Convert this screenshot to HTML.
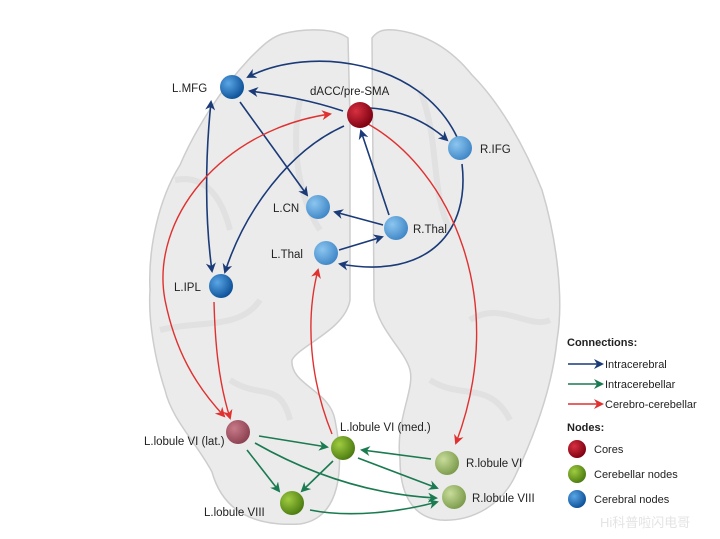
<!DOCTYPE html>
<html><head><meta charset="utf-8"><style>
html,body{margin:0;padding:0;background:#fff;}
svg{display:block;}
text{font-family:"Liberation Sans",sans-serif;}
</style></head><body>
<svg width="720" height="539" viewBox="0 0 720 539" xmlns="http://www.w3.org/2000/svg">
<defs>
<radialGradient id="gb" cx="35%" cy="35%" r="70%"><stop offset="0" stop-color="#5aa6e6"/><stop offset="1" stop-color="#0b4f96"/></radialGradient>
<radialGradient id="gl" cx="35%" cy="35%" r="70%"><stop offset="0" stop-color="#8cc6f0"/><stop offset="1" stop-color="#3f86c6"/></radialGradient>
<radialGradient id="gr" cx="35%" cy="35%" r="70%"><stop offset="0" stop-color="#d83040"/><stop offset="1" stop-color="#7a0010"/></radialGradient>
<radialGradient id="gp" cx="35%" cy="35%" r="70%"><stop offset="0" stop-color="#c87a88"/><stop offset="1" stop-color="#8a4050"/></radialGradient>
<radialGradient id="gg" cx="35%" cy="35%" r="70%"><stop offset="0" stop-color="#a0cc40"/><stop offset="1" stop-color="#4a7a10"/></radialGradient>
<radialGradient id="gg2" cx="35%" cy="35%" r="70%"><stop offset="0" stop-color="#c8dc9a"/><stop offset="1" stop-color="#7a9a4a"/></radialGradient>
<marker id="ab" markerWidth="10" markerHeight="10" refX="8" refY="5" orient="auto" markerUnits="userSpaceOnUse"><path d="M0,0 L10,5 L0,10 L3,5 z" fill="#1a3a78"/></marker>
<marker id="abs" markerWidth="10" markerHeight="10" refX="2" refY="5" orient="auto" markerUnits="userSpaceOnUse"><path d="M10,0 L0,5 L10,10 L7,5 z" fill="#1a3a78"/></marker>
<marker id="ar" markerWidth="10" markerHeight="10" refX="8" refY="5" orient="auto" markerUnits="userSpaceOnUse"><path d="M0,0 L10,5 L0,10 L3,5 z" fill="#e03030"/></marker>
<marker id="ars" markerWidth="10" markerHeight="10" refX="2" refY="5" orient="auto" markerUnits="userSpaceOnUse"><path d="M10,0 L0,5 L10,10 L7,5 z" fill="#e03030"/></marker>
<marker id="ag" markerWidth="10" markerHeight="10" refX="8" refY="5" orient="auto" markerUnits="userSpaceOnUse"><path d="M0,0 L10,5 L0,10 L3,5 z" fill="#1a7a50"/></marker>
</defs>
<path d="M282,34 C305,28 335,28 348,38 L350,120 L350,300 C345,330 300,345 292,360 C290,385 330,390 335,420 C345,470 340,518 300,524 C250,527 222,508 212,472 C196,442 172,420 165,390 C155,360 148,320 150,290 C148,250 158,200 180,165 C195,130 220,90 250,58 C262,46 270,38 282,34 Z" fill="#ebebeb" stroke="#cdcdcd" stroke-width="1.5"/>
<path d="M395,30 C420,33 448,45 472,75 C497,100 522,140 542,190 C557,240 564,300 557,340 C552,390 532,440 517,472 C502,507 470,522 440,520 C410,517 400,490 400,460 C395,420 415,390 410,370 C405,350 378,330 374,300 L372,38 C378,30 385,29 395,30 Z" fill="#ebebeb" stroke="#cdcdcd" stroke-width="1.5"/>
<path d="M175,180 C200,175 220,190 230,230 M160,330 C200,320 240,330 260,300 M300,100 C290,150 300,200 320,230 M420,90 C440,140 430,190 450,230 M470,320 C500,300 530,330 550,320 M230,380 C260,400 280,380 290,420 M430,380 C460,400 490,380 510,420" fill="none" stroke="#dadada" stroke-width="6" opacity="0.6"/>
<g fill="none" stroke="#1a3a78" stroke-width="1.6">
<path d="M457,137 C420,60 310,45 248,77" marker-end="url(#ab)"/>
<path d="M343,111 C310,100 280,95 250,91" marker-end="url(#ab)"/>
<path d="M370,108 C400,110 425,120 447,140" marker-end="url(#ab)"/>
<path d="M240,102 L307,195" marker-end="url(#ab)"/>
<path d="M211,102 C205,160 205,220 212,271" marker-start="url(#abs)" marker-end="url(#ab)"/>
<path d="M344,126 C290,150 245,210 225,272" marker-end="url(#ab)"/>
<path d="M383,225 L335,212" marker-end="url(#ab)"/>
<path d="M389,215 L361,131" marker-end="url(#ab)"/>
<path d="M339,250 L382,237" marker-end="url(#ab)"/>
<path d="M462,164 C470,230 430,280 340,264" marker-end="url(#ab)"/>
</g>
<g fill="none" stroke="#e03030" stroke-width="1.4">
<path d="M330,114 C220,130 150,220 165,300 C175,350 195,385 224,416" marker-start="url(#ars)" marker-end="url(#ar)"/>
<path d="M214,302 C215,340 218,380 230,418" marker-end="url(#ar)"/>
<path d="M332,434 C310,380 305,320 318,270" marker-end="url(#ar)"/>
<path d="M368,124 C450,170 510,300 456,443" marker-end="url(#ar)"/>
</g>
<g fill="none" stroke="#1a7a50" stroke-width="1.6">
<path d="M259,436 L327,447" marker-end="url(#ag)"/>
<path d="M247,450 L279,491" marker-end="url(#ag)"/>
<path d="M255,443 C320,480 380,495 436,498" marker-end="url(#ag)"/>
<path d="M333,461 L302,491" marker-end="url(#ag)"/>
<path d="M358,458 L437,488" marker-end="url(#ag)"/>
<path d="M431,459 L362,450" marker-end="url(#ag)"/>
<path d="M310,510 C350,518 400,512 437,502" marker-end="url(#ag)"/>
</g>
<circle cx="232" cy="87" r="12" fill="url(#gb)"/>
<circle cx="360" cy="115" r="13" fill="url(#gr)"/>
<circle cx="460" cy="148" r="12" fill="url(#gl)"/>
<circle cx="318" cy="207" r="12" fill="url(#gl)"/>
<circle cx="396" cy="228" r="12" fill="url(#gl)"/>
<circle cx="326" cy="253" r="12" fill="url(#gl)"/>
<circle cx="221" cy="286" r="12" fill="url(#gb)"/>
<circle cx="238" cy="432" r="12" fill="url(#gp)"/>
<circle cx="343" cy="448" r="12" fill="url(#gg)"/>
<circle cx="447" cy="463" r="12" fill="url(#gg2)"/>
<circle cx="292" cy="503" r="12" fill="url(#gg)"/>
<circle cx="454" cy="497" r="12" fill="url(#gg2)"/>
<g font-size="11.5" fill="#222">
<text x="172" y="92">L.MFG</text>
<text x="310" y="95">dACC/pre-SMA</text>
<text x="480" y="153">R.IFG</text>
<text x="273" y="212">L.CN</text>
<text x="413" y="233">R.Thal</text>
<text x="271" y="258">L.Thal</text>
<text x="174" y="291">L.IPL</text>
<text x="144" y="445">L.lobule VI (lat.)</text>
<text x="340" y="431">L.lobule VI (med.)</text>
<text x="466" y="467">R.lobule VI</text>
<text x="472" y="502">R.lobule VIII</text>
<text x="204" y="516">L.lobule VIII</text>
</g>
<g font-size="11" fill="#222">
<text x="567" y="346" font-weight="bold">Connections:</text>
<line x1="568" y1="364" x2="602" y2="364" stroke="#1a3a78" stroke-width="1.6" marker-end="url(#ab)"/>
<text x="605" y="368">Intracerebral</text>
<line x1="568" y1="384" x2="602" y2="384" stroke="#1a7a50" stroke-width="1.6" marker-end="url(#ag)"/>
<text x="605" y="388">Intracerebellar</text>
<line x1="568" y1="404" x2="602" y2="404" stroke="#e03030" stroke-width="1.6" marker-end="url(#ar)"/>
<text x="605" y="408">Cerebro-cerebellar</text>
<text x="567" y="431" font-weight="bold">Nodes:</text>
<circle cx="577" cy="449" r="9" fill="url(#gr)"/><text x="594" y="453">Cores</text>
<circle cx="577" cy="474" r="9" fill="url(#gg)"/><text x="594" y="478">Cerebellar nodes</text>
<circle cx="577" cy="499" r="9" fill="url(#gb)"/><text x="594" y="503">Cerebral nodes</text>
</g>
<text x="600" y="527" font-size="13" fill="#e4e4e4" font-family="Liberation Sans, Noto Sans CJK SC, sans-serif">Hi科普啦闪电哥</text>
</svg>
</body></html>
